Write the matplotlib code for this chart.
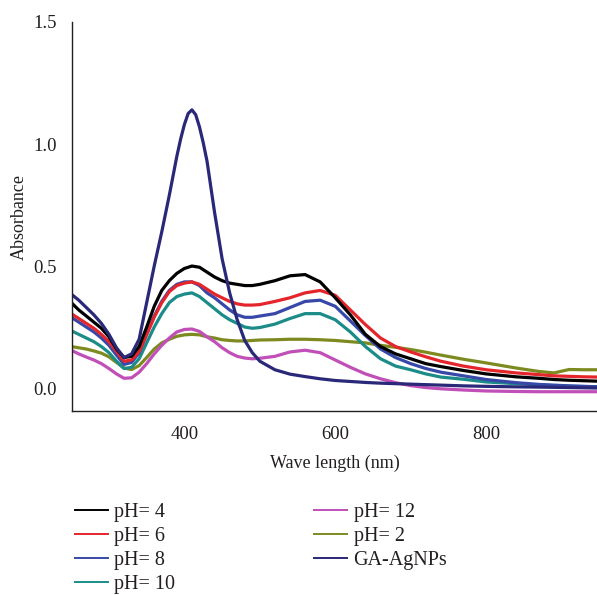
import matplotlib
matplotlib.use("Agg")
import matplotlib.pyplot as plt
from matplotlib.lines import Line2D

plt.rcParams["font.family"] = ["Liberation Serif", "DejaVu Serif"]

# Wavelength grid (nm)
wavelength = [250, 260, 270, 280, 290, 300, 310, 320, 330, 340, 350, 360, 370, 380, 390,
              400, 410, 420, 430, 440, 450, 460, 470, 480, 490, 500, 520, 540, 560, 580,
              600, 620, 640, 660, 680, 700, 720, 740, 770, 800, 840, 870, 890, 910, 930, 950]

# Absorbance spectra
ph4 = [0.35, 0.32, 0.295, 0.27, 0.245, 0.21, 0.16, 0.125, 0.13, 0.17, 0.25, 0.335, 0.40, 0.44, 0.47,
       0.49, 0.50, 0.495, 0.475, 0.455, 0.44, 0.43, 0.425, 0.42, 0.42, 0.425, 0.44, 0.46, 0.465, 0.435,
       0.37, 0.30, 0.22, 0.17, 0.14, 0.12, 0.10, 0.088, 0.072, 0.058, 0.046, 0.04, 0.035, 0.032, 0.03, 0.028]
ph6 = [0.305, 0.285, 0.265, 0.245, 0.22, 0.19, 0.15, 0.11, 0.115, 0.15, 0.22, 0.29, 0.35, 0.395, 0.42,
       0.43, 0.435, 0.425, 0.405, 0.385, 0.37, 0.355, 0.345, 0.34, 0.34, 0.342, 0.355, 0.37, 0.39, 0.40,
       0.38, 0.32, 0.26, 0.205, 0.17, 0.148, 0.128, 0.11, 0.09, 0.075, 0.062, 0.055, 0.05, 0.048, 0.046, 0.045]
ph8 = [0.29, 0.27, 0.25, 0.23, 0.205, 0.175, 0.135, 0.097, 0.105, 0.145, 0.22, 0.295, 0.355, 0.40, 0.425,
       0.435, 0.435, 0.42, 0.39, 0.37, 0.345, 0.32, 0.30, 0.29, 0.29, 0.295, 0.305, 0.33, 0.355, 0.36,
       0.335, 0.275, 0.215, 0.16, 0.125, 0.10, 0.08, 0.065, 0.05, 0.035, 0.022, 0.015, 0.012, 0.009, 0.007, 0.005]
ph10 = [0.235, 0.22, 0.205, 0.19, 0.17, 0.145, 0.11, 0.08, 0.085, 0.12, 0.185, 0.25, 0.305, 0.35, 0.375,
        0.385, 0.39, 0.375, 0.35, 0.325, 0.30, 0.28, 0.265, 0.25, 0.245, 0.248, 0.262, 0.285, 0.305, 0.305,
        0.28, 0.23, 0.17, 0.12, 0.09, 0.075, 0.058, 0.045, 0.036, 0.025, 0.018, 0.013, 0.01, 0.008, 0.006, 0.005]
ph12 = [0.155, 0.14, 0.127, 0.115, 0.10, 0.08, 0.058, 0.04, 0.042, 0.065, 0.10, 0.14, 0.175, 0.205, 0.23,
        0.24, 0.242, 0.232, 0.21, 0.19, 0.165, 0.145, 0.13, 0.123, 0.12, 0.122, 0.13, 0.148, 0.155, 0.145,
        0.115, 0.085, 0.058, 0.038, 0.022, 0.01, 0.002, -0.003, -0.008, -0.012, -0.014, -0.015, -0.015, -0.015, -0.015, -0.015]
ph2 = [0.17, 0.165, 0.16, 0.152, 0.143, 0.128, 0.105, 0.082, 0.076, 0.092, 0.125, 0.16, 0.185, 0.20, 0.212,
       0.218, 0.22, 0.218, 0.21, 0.205, 0.198, 0.195, 0.193, 0.193, 0.195, 0.197, 0.198, 0.20, 0.20, 0.198,
       0.195, 0.19, 0.185, 0.175, 0.167, 0.158, 0.147, 0.135, 0.118, 0.103, 0.082, 0.068, 0.062, 0.076, 0.075, 0.075]

# GA-AgNPs has a sharp plasmon band, so it is sampled more finely around the peak
wavelength_ga = [250, 260, 270, 280, 290, 300, 310, 320, 330, 340, 350, 360, 370, 380, 390, 395,
                 400, 405, 410, 415, 420, 425, 430, 440, 450, 460, 470, 480, 490, 500, 520, 540,
                 560, 580, 600, 620, 640, 660, 680, 700, 720, 740, 770, 800, 840, 870, 890, 910, 930, 950]
ga_agnps = [0.385, 0.36, 0.33, 0.30, 0.265, 0.22, 0.165, 0.125, 0.14, 0.20, 0.35, 0.50, 0.64, 0.79, 0.95, 1.02,
            1.08, 1.125, 1.14, 1.12, 1.07, 1.005, 0.93, 0.72, 0.53, 0.39, 0.28, 0.195, 0.145, 0.11, 0.075, 0.057,
            0.047, 0.038, 0.031, 0.027, 0.023, 0.02, 0.018, 0.016, 0.014, 0.012, 0.009, 0.007, 0.005, 0.004, 0.003, 0.002, 0.001, 0.0]

labels = ["pH= 4", "pH= 6", "pH= 8", "pH= 10", "pH= 12", "pH= 2", "GA-AgNPs"]
xs = [wavelength] * 6 + [wavelength_ga]
series = [ph4, ph6, ph8, ph10, ph12, ph2, ga_agnps]
colors = ["#000000", "#e4262c", "#3748a8", "#1b8c88", "#c04fb8", "#7d8a1f", "#2a2878"]

fig = plt.figure(figsize=(5.97, 5.95), dpi=100)
ax = fig.add_axes([72 / 597, (595 - 411) / 595, (597 - 72) / 597, (411 - 22) / 595])

# Draw from the back: lower curves first so upper ones sit on top
order = [5, 4, 3, 2, 1, 0, 6]
for i in order:
    ax.plot(xs[i], series[i], color=colors[i], lw=2.3,
            solid_capstyle="round", solid_joinstyle="round")

ax.set_xlim(251, 947)
ax.set_ylim(-0.094, 1.5)
ax.set_xticks([400, 600, 800])
ax.set_yticks([0.0, 0.5, 1.0, 1.5])
ax.set_yticklabels(["0.0", "0.5", "1.0", "1.5"])
ax.tick_params(axis="both", length=0, labelsize=13.5, colors="#231f20")
ax.tick_params(axis="y", pad=11)
ax.tick_params(axis="x", pad=11)
for s in ("top", "right"):
    ax.spines[s].set_visible(False)
for s in ("left", "bottom"):
    ax.spines[s].set_color("#231f20")
    ax.spines[s].set_linewidth(1.0)

ax.set_xlabel("Wave length (nm)", fontsize=13, color="#231f20", labelpad=8)
ax.set_ylabel("Absorbance", fontsize=13, color="#231f20", labelpad=4)

handles = [Line2D([], [], color=c, lw=1.4) for c in colors]
fig.legend(handles, labels, loc="upper left", bbox_to_anchor=(75 / 597, (595 - 503) / 595),
           ncol=2, frameon=False, fontsize=14.5, handlelength=1.65, handletextpad=0.3,
           columnspacing=6.9, labelspacing=0.24, borderpad=0, borderaxespad=0,
           labelcolor="#231f20")

fig.savefig("out.png", dpi=100)
